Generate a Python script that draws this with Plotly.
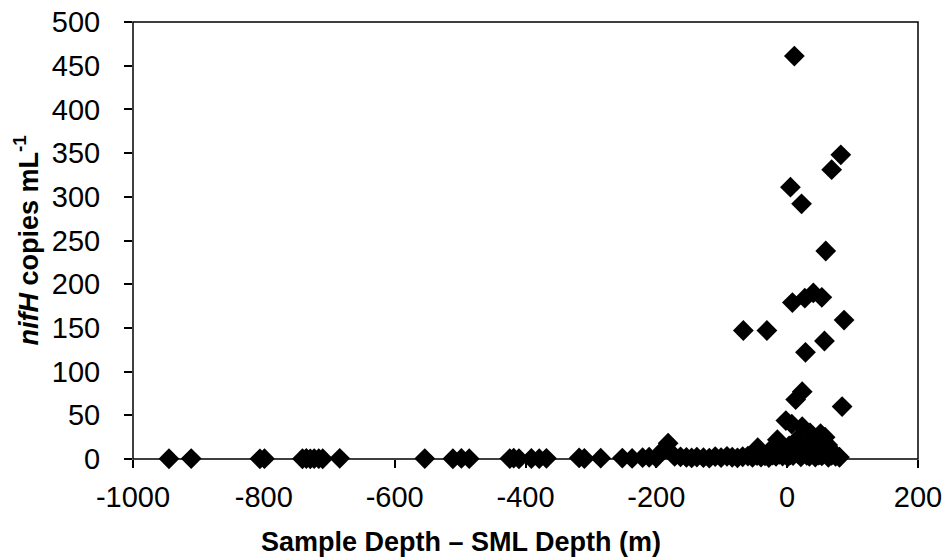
import plotly.graph_objects as go

# Sample depth minus SML depth (m) and nifH copies per mL
depth_deep = [-945, -911, -806, -799, -741, -735, -729, -723, -716, -710, -684,
              -554, -511, -498, -486, -424, -418, -410, -391, -379, -368,
              -318, -310, -285, -252, -237, -221, -211, -200, -190, -182]
nifh_deep = [0.3, 0.5, 0.2, 0.4, 0.3, 0.6, 0.2, 0.5, 0.4, 0.3, 0.8,
             0.5, 0.3, 0.7, 0.4, 0.5, 0.9, 0.3, 0.6, 0.4, 0.8,
             1.2, 0.6, 0.9, 1.1, 0.7, 1.5, 2.0, 1.3, 10.0, 18.0]

depth_shallow = [-172, -163, -154, -146, -138, -128, -119, -110, -101, -92, -84,
                 -76, -68, -60, -53, -46, -40, -34, -28, -22, -17, -12, -7, -3,
                 1, 5, 9, 13, 17, 21, 25, 30, 34, 38, 43, 48, 53, 58, 63, 68, 74, 80]
nifh_shallow = [3.0, 2.5, 1.8, 1.2, 2.2, 1.5, 0.9, 2.8, 1.6, 3.1, 2.0,
                1.4, 2.6, 3.4, 1.8, 4.0, 2.3, 3.6, 1.7, 4.5, 2.9, 5.2, 3.3, 6.0,
                2.4, 4.8, 3.9, 7.0, 5.5, 2.6, 6.4, 4.1, 3.0, 5.8, 2.2, 4.6, 3.5, 6.8, 1.9, 4.2, 3.1, 2.0]

depth_high = [11, 82, 68, 5, 22, 59, 40, 27, 53, 8, 87, -67, -31, 57, 28,
              23, 13, 84, -2, 7, 23, 35, 51, 58, 45, 15, -15, -45, -22, 30, 62, 70, 3, 40, -8, 20, 50]
nifh_high = [461, 348, 331, 311, 292, 238, 190, 184, 185, 179, 159, 147, 147, 135, 122,
             77, 68, 60, 44, 40, 37, 30, 29, 25, 20, 22, 22, 13, 13, 15, 16, 8, 15, 10, 8, 6, 5]

x_ticks = [-1000, -800, -600, -400, -200, 0, 200]
x_ticktext = ["-1000", "-800", "-600", "-400", "-200", "0", "200"]
y_ticks = [0, 50, 100, 150, 200, 250, 300, 350, 400, 450, 500]

depth = depth_deep + depth_shallow + depth_high
nifh = nifh_deep + nifh_shallow + nifh_high

FONT = "Liberation Sans, Arial, sans-serif"

fig = go.Figure()
fig.add_trace(go.Scatter(
    x=depth, y=nifh, mode="markers",
    marker=dict(symbol="diamond", size=16, color="black", line=dict(width=0)),
    cliponaxis=False, showlegend=False,
))

axis_common = dict(
    showline=False, showgrid=False, zeroline=False, ticks="outside", ticklen=8,
    tickcolor="black", tickwidth=1.5, automargin=False, ticklabeloverflow="allow",
    tickfont=dict(family=FONT, size=29, color="black"),
)

# the page body has an 8px margin, so the figure margins are offset by 8px
fig.update_layout(
    width=951, height=558,
    margin=dict(l=125, r=41, t=14, b=107),
    paper_bgcolor="white", plot_bgcolor="white",
    xaxis=dict(range=[-1000, 200], tickvals=x_ticks, ticktext=x_ticktext,
               ticklabelstandoff=4, **axis_common),
    yaxis=dict(range=[0, 500], tickvals=y_ticks, ticklabelstandoff=18, **axis_common),
    shapes=[dict(type="rect", xref="paper", yref="paper", x0=0, y0=0, x1=1, y1=1,
                 line=dict(color="black", width=1.5), layer="above")],
    annotations=[
        dict(text="<b>Sample Depth – SML Depth (m)</b>", xref="paper", yref="paper",
             x=(461 - 133) / 785, y=-(542 - 459) / 437, xanchor="center", yanchor="middle",
             showarrow=False, font=dict(family=FONT, size=27, color="black")),
        dict(text="<b><i>nifH</i> copies mL<sup>-1</sup></b>", xref="paper", yref="paper",
             x=(26 - 133) / 785, y=0.5, xanchor="center", yanchor="middle", textangle=-90,
             showarrow=False, font=dict(family=FONT, size=27, color="black")),
    ],
)

fig.write_html("out.html")
